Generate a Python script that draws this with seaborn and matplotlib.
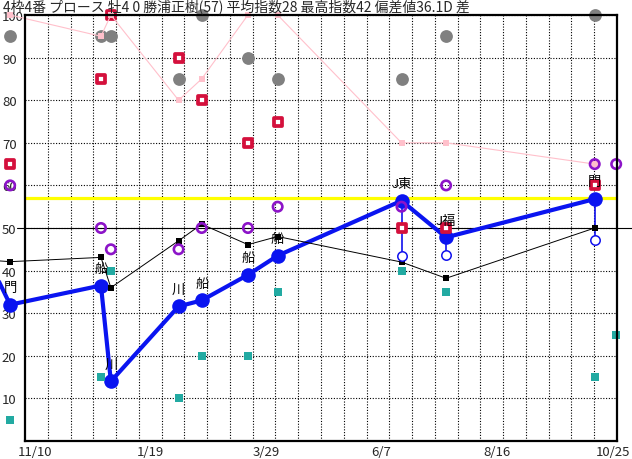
import numpy as np
import pandas as pd
import matplotlib
matplotlib.use("Agg")
import matplotlib.pyplot as plt
import seaborn as sns

# --- data ---
TITLE = "4枠4番 プロース 牡4 0 勝浦正樹(57) 平均指数28 最高指数42 偏差値36.1D 差"

# days counted from 11/10
race_day = [-15, 40, 46, 87, 101, 129, 147, 222, 249, 339]
next_day = 352
prev_day = -30

course = ["門", "船", "川", "川", "船", "船", "船", "J東", "J福", "門"]

index_main = [32, 36.5, 14, 31.6, 33, 39, 43.5, 56.4, 47.8, 56.8]
index_low = [np.nan] * 7 + [43.5, 43.7, 47.3]
index_avg = [42.1, 43.1, 36, 47, 50.9, 46.1, 48, 42, 38.2, 50]
prev_main = 44
prev_avg = 42.5
purple_vals = [60, 50, 45, 45, 50, 50, 55, 55, 60, 65]
purple_next = 65
red_vals = [65, 85, 100, 90, 80, 70, 75, 50, 50, 60]
gray_vals = [95, 95, 95, 85, 100, 90, 85, 85, 95, 100]
pink_vals = [100, 95, 100, 80, 85, 100, 100, 70, 70, 65]
teal_vals = [5, 15, 40, 10, 20, 20, 35, 40, 35, 15]
teal_next = 25
level_line = 57

tick_days = [0, 70, 140, 210, 280, 350]
tick_labels = ["11/10", "1/19", "3/29", "6/7", "8/16", "10/25"]
y_ticks = [10, 20, 30, 40, 50, 60, 70, 80, 90, 100]

# --- frames ---
races = pd.DataFrame({
    "day": race_day, "main": index_main, "low": index_low, "avg": index_avg,
    "purple": purple_vals, "red": red_vals, "gray": gray_vals,
    "pink": pink_vals, "teal": teal_vals, "course": course,
})
main_line = pd.DataFrame({"day": [prev_day] + race_day, "main": [prev_main] + index_main})
avg_line = pd.DataFrame({"day": [prev_day] + race_day, "avg": [prev_avg] + index_avg})
purple_df = pd.DataFrame({"day": race_day + [next_day], "v": purple_vals + [purple_next]})
teal_df = pd.DataFrame({"day": race_day + [next_day], "v": teal_vals + [teal_next]})

sns.set_style("white")
plt.rcParams["font.family"] = ["Noto Sans CJK JP", "DejaVu Sans"]
FS = 9.5

fig = plt.figure(figsize=(6.32, 4.60), dpi=100)
ax = fig.add_axes([25 / 632, 18 / 460, 592 / 632, 426 / 460])
ax.set_xlim(-6, 352.5)
ax.set_ylim(0, 100)

# grid: 26 equal columns, dotted rows
x0, x1 = ax.get_xlim()
ax.set_xticks(np.linspace(x0, x1, 27)[1:-1], minor=True)
ax.set_xticks(tick_days)
ax.set_xticklabels(tick_labels, fontsize=FS)
ax.set_yticks(y_ticks)
ax.set_yticklabels([str(v) for v in y_ticks], fontsize=FS)
ax.grid(False)
ax.grid(True, which="minor", axis="x", color="black", linestyle=(0, (1, 1.5)), linewidth=0.8)
ax.grid(True, which="major", axis="y", color="black", linestyle=(0, (1, 1.5)), linewidth=0.8)
ax.tick_params(which="both", length=0)
ax.tick_params(axis="y", pad=16.6)
ax.tick_params(axis="x", pad=3)
for lab in ax.get_yticklabels():
    lab.set_ha("left")
for sp in ax.spines.values():
    sp.set_color("black")
    sp.set_linewidth(1.6)
    sp.set_zorder(11)

ax.axhline(50, xmin=-0.014, xmax=1.03, color="black", linewidth=0.8, clip_on=False, zorder=2)
ax.axhline(level_line, color="#ffff00", linewidth=2.3, zorder=4)

# background markers
sns.scatterplot(data=races, x="day", y="gray", ax=ax, color="#808080", s=85,
                linewidth=0, marker="o", clip_on=False, zorder=3, legend=False)
sns.scatterplot(data=races, x="day", y="red", ax=ax, color="white", s=30, marker="s",
                edgecolor="#d4103c", linewidth=2.7, clip_on=False, zorder=7, legend=False)
sns.lineplot(data=races, x="day", y="pink", ax=ax, color="#ffc0cb", linewidth=0.8,
             marker="s", markersize=3.8, markeredgewidth=0, clip_on=False, zorder=7.5)

# low-end vertical bars with open circles
for d, hi, lo in zip(race_day, index_main, index_low):
    if not np.isnan(lo):
        ax.vlines(d, lo, hi, color="#1010ee", linewidth=1.2, zorder=5)
sns.scatterplot(data=races, x="day", y="low", ax=ax, color="white", s=46, marker="o",
                edgecolor="#1010ee", linewidth=1.1, zorder=8.5, legend=False)

# main index line
sns.lineplot(data=main_line, x="day", y="main", ax=ax, color="#0a14f0", linewidth=3,
             marker="o", markersize=10.5, markeredgewidth=0, clip_on=False, zorder=6)
sns.lineplot(data=avg_line, x="day", y="avg", ax=ax, color="black", linewidth=0.7,
             marker="s", markersize=4.5, markeredgewidth=0, clip_on=False, zorder=8)

sns.scatterplot(data=teal_df, x="day", y="v", ax=ax, color="#22aaa2", s=34, marker="s",
                linewidth=0, clip_on=False, zorder=7, legend=False)
sns.scatterplot(data=purple_df, x="day", y="v", ax=ax, facecolor="none", s=46, marker="o",
                edgecolor="#8c14c8", linewidth=1.9, clip_on=False, zorder=9, legend=False)

for d, v, c in zip(race_day, index_main, course):
    ax.annotate(c, (d, v), xytext=(0, 12.5), textcoords="offset points", ha="center",
                va="center", fontsize=FS, color="black", zorder=10, annotation_clip=False)

ax.set_xlabel("")
ax.set_ylabel("")
fig.text(3 / 632, 1 - 6.5 / 460, TITLE, ha="left", va="center", fontsize=10)

fig.savefig("out.png", dpi=100)
